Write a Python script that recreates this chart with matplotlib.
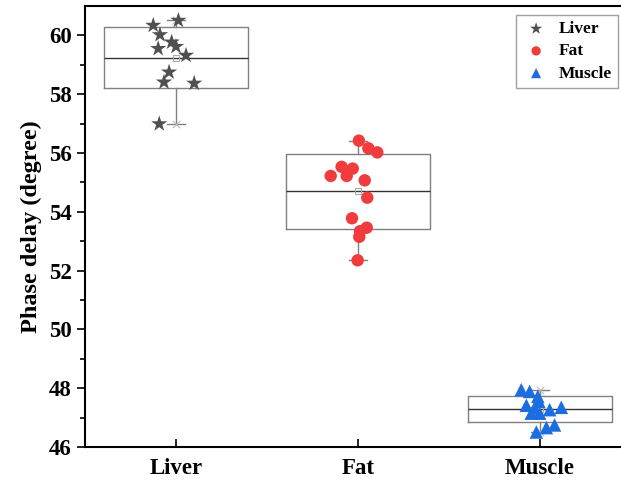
"""
plot.py

Phase delay of liver, fat and muscle: box (mean +/- SD, whiskers min/max)
with the individual measurements overlaid.
"""

import numpy as np
import matplotlib.pyplot as plt

plt.rcParams["font.family"] = ["Liberation Serif", "DejaVu Serif"]
plt.rcParams["font.weight"] = "bold"

categories = ["Liver", "Fat", "Muscle"]

liver = [60.51, 60.34, 60.02, 59.77, 59.62, 59.55, 59.32, 58.75, 58.41, 58.37, 56.99]
fat = [56.42, 56.16, 56.02, 55.53, 55.47, 55.22, 55.22, 55.07, 54.48,
       53.78, 53.46, 53.34, 53.15, 52.35]
muscle = [47.95, 47.89, 47.72, 47.55, 47.42, 47.33, 47.27, 47.35, 47.15,
          47.15, 46.66, 46.75, 46.51]

# horizontal scatter of the points around each box centre
liver_jitter = [0.013, -0.125, -0.088, -0.024, 0.0, -0.098, 0.055, -0.038, -0.066, 0.10, -0.092]
fat_jitter = [0.005, 0.057, 0.106, -0.09, -0.029, -0.15, -0.062, 0.037, 0.051,
              -0.033, 0.048, 0.011, 0.007, -0.002]
muscle_jitter = [-0.103, -0.057, -0.012, -0.006, -0.075, -0.03, 0.053, 0.117,
                 -0.048, -0.002, 0.035, 0.08, -0.02]

groups = [liver, fat, muscle]
jitters = [liver_jitter, fat_jitter, muscle_jitter]
colors = ["#505050", "#f03c3c", "#1c6ee0"]
markers = ["*", "o", "^"]
sizes = [150, 80, 95]

fig = plt.figure(figsize=(6.21, 4.83), dpi=100)
ax = fig.add_axes([85 / 621, 36 / 483, 546 / 621, 441 / 483])

# box = mean +/- SD, whiskers = min/max
stats = []
for vals in groups:
    v = np.array(vals)
    m, sd = v.mean(), v.std(ddof=1)
    stats.append(dict(med=m, mean=m, q1=m - sd, q3=m + sd,
                      whislo=v.min(), whishi=v.max(), fliers=[]))

positions = np.arange(1, len(categories) + 1)
ax.bxp(stats, positions=positions, widths=0.79, capwidths=0.1, showmeans=True,
       boxprops=dict(color="#808080", lw=1.0),
       whiskerprops=dict(color="#808080", lw=1.0),
       capprops=dict(color="#808080", lw=1.0),
       medianprops=dict(color="#333333", lw=1.0),
       meanprops=dict(marker="s", mfc="none", mec="#aaaaaa", ms=4, mew=0.8))

for i, (vals, jit) in enumerate(zip(groups, jitters)):
    v = np.array(vals)
    ax.scatter([positions[i]] * 2, [v.min(), v.max()], marker="x",
               color="#bbbbbb", s=30, lw=0.8, zorder=3)
    ax.scatter(positions[i] + np.array(jit), v, marker=markers[i], s=sizes[i],
               color=colors[i], edgecolors="none", zorder=4, label=categories[i])

ax.set_xlim(0.5, 3.5)
ax.set_ylim(46, 61)
ax.set_yticks(np.arange(46, 61, 2))
ax.set_yticks(np.arange(47, 61, 2), minor=True)
ax.set_xticks(positions)
ax.set_xticklabels(categories)
ax.tick_params(axis="y", which="major", direction="out", length=6, width=1.2, labelsize=16.5)
ax.tick_params(axis="y", which="minor", direction="out", length=3.5, width=1.2)
ax.tick_params(axis="x", direction="in", length=6, width=1.2, labelsize=16.5, pad=8)
ax.set_ylabel("Phase delay (degree)", fontsize=17.5, fontweight="bold", labelpad=5)

for side in ["left", "bottom", "top", "right"]:
    ax.spines[side].set_linewidth(1.5)

leg = ax.legend(loc="upper right", bbox_to_anchor=(618 / 621, 1 - 15 / 483),
                bbox_transform=fig.transFigure, borderaxespad=0, fontsize=12.5,
                frameon=True, fancybox=False, edgecolor="#888888", markerscale=0.75,
                handletextpad=0.5, borderpad=0.35, labelspacing=0.35, handlelength=1.6)
leg.get_frame().set_linewidth(1.0)

fig.savefig("out.png", dpi=100)
